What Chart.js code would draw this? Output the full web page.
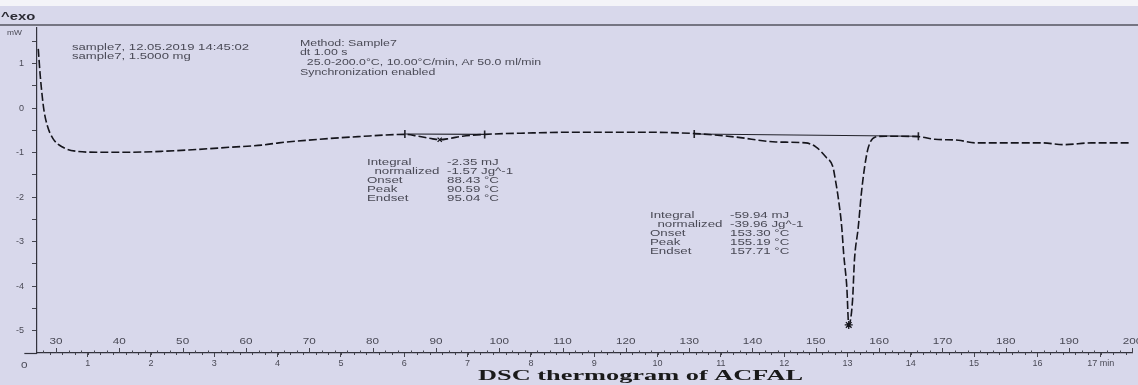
<!DOCTYPE html>
<html><head><meta charset="utf-8">
<script src="https://cdn.jsdelivr.net/npm/chart.js@4.4.1/dist/chart.umd.min.js"></script>
<style>html,body{margin:0;padding:0;background:#d8d8eb;}#wrap{width:1138px;height:385px;position:relative;}</style>
</head><body><div id="wrap"><canvas id="c"></canvas></div>
<script>
// ---- data ----
const temperatureC = [27.2,27.5,27.8,28.1,28.6,29.5,31.1,33.3,36.4,41.6,46.8,52.1,57.3,62.5,65.2,71.5,77.7,85.1,87.2,89.5,90.6,92.2,94.2,97.7,104.4,112.3,121.7,130.8,137.4,143.7,148.4,150.0,151.6,152.7,153.1,153.6,154.1,154.4,154.9,155.2,155.8,156.1,156.7,157.2,157.7,158.3,159.4,161.0,166.2,168.8,172.5,175.1,180.3,185.6,189.3,193.5,199.8];
const heatFlowMW = [1.33,0.75,0.30,-0.05,-0.38,-0.68,-0.88,-0.97,-0.99,-0.99,-0.97,-0.93,-0.88,-0.83,-0.78,-0.70,-0.64,-0.59,-0.63,-0.69,-0.71,-0.68,-0.63,-0.59,-0.56,-0.54,-0.54,-0.57,-0.65,-0.76,-0.78,-0.87,-1.10,-1.32,-1.62,-2.07,-2.68,-3.27,-4.03,-4.87,-4.32,-3.42,-2.68,-1.91,-1.33,-0.88,-0.65,-0.63,-0.64,-0.70,-0.72,-0.78,-0.78,-0.78,-0.82,-0.78,-0.78];
const baseline1T = [85.1, 97.7];
const baseline1MW = [-0.58, -0.59];
const baseline2T = [130.8, 166.2];
const baseline2MW = [-0.58, -0.63];
const peakT = [90.6, 155.2];
const peakMW = [-0.71, -4.87];
const tempTickLabels = [30,40,50,60,70,80,90,100,110,120,130,140,150,160,170,180,190,200];
const minuteTickLabels = [0,1,2,3,4,5,6,7,8,9,10,11,12,13,14,15,16,17];
const mwTickLabels = [1,0,-1,-2,-3,-4,-5];
const sampleLines = ['sample7, 12.05.2019 14:45:02','sample7, 1.5000 mg'];
const methodLines = ['Method: Sample7','dt 1.00 s','  25.0-200.0°C, 10.00°C/min, Ar 50.0 ml/min','Synchronization enabled'];
const resultKeys = ['Integral','  normalized','Onset','Peak','Endset'];
const peak1Values = ['-2.35 mJ','-1.57 Jg^-1','88.43 °C','90.59 °C','95.04 °C'];
const peak2Values = ['-59.94 mJ','-39.96 Jg^-1','153.30 °C','155.19 °C','157.71 °C'];
const chartTitle = 'DSC thermogram of ACFAL';

const BG = '#d8d8eb';
const INK = '#4a4a56';

function zip(xs, ys){ return xs.map((x,i)=>({x:x, y:ys[i]})); }

function txt(ctx, s, x, y, font, sx, align){
  ctx.save();
  ctx.font = font;
  ctx.textBaseline = 'middle';
  ctx.textAlign = align || 'left';
  ctx.translate(x, y);
  ctx.scale(sx, 1);
  ctx.fillText(s, 0, 0);
  ctx.restore();
}

const decor = {
  id: 'decor',
  beforeDraw(chart){
    const ctx = chart.ctx;
    ctx.save();
    ctx.fillStyle = BG;
    ctx.fillRect(0, 0, chart.width, chart.height);
    ctx.fillStyle = '#f4f4f8';
    ctx.fillRect(0, 0, chart.width, 6);
    ctx.restore();
  },
  afterDraw(chart){
    const ctx = chart.ctx;
    const xs = chart.scales.x, xm = chart.scales.xm;
    const axisY = chart.chartArea.bottom;
    ctx.save();
    ctx.strokeStyle = '#55555f';
    ctx.lineWidth = 1.5;
    ctx.beginPath(); ctx.moveTo(0, 25); ctx.lineTo(chart.width, 25); ctx.stroke();
    ctx.fillStyle = '#2a2a33';
    txt(ctx, '^exo', 1, 17, 'bold 11px "Liberation Sans"', 1.35);
    ctx.fillStyle = INK;
    txt(ctx, 'mW', 7, 33, '7px "Liberation Sans"', 1.2);
    const f = '9.5px "Liberation Sans"';
    sampleLines.forEach((s,i)=>txt(ctx, s, 72, 47 + i*9.5, f, 1.38));
    methodLines.forEach((s,i)=>txt(ctx, s, 300, 43 + i*9.7, f, 1.3));
    resultKeys.forEach((k,i)=>{
      txt(ctx, k, 367, 162 + i*9, f, 1.4);
      txt(ctx, peak1Values[i], 447, 162 + i*9, f, 1.4);
      txt(ctx, k, 650, 215 + i*9.2, f, 1.4);
      txt(ctx, peak2Values[i], 730, 215 + i*9.2, f, 1.4);
    });
    ctx.strokeStyle = '#45454f';
    ctx.lineWidth = 1;
    for (let t = 28; t <= 200; t += 2){
      const px = Math.round(xs.getPixelForValue(t)) + 0.5;
      const len = (t % 10 === 0) ? 5 : 2.5;
      ctx.beginPath(); ctx.moveTo(px, axisY); ctx.lineTo(px, axisY - len); ctx.stroke();
    }
    for (let m = 0.4; m <= 17.4; m += 0.2){
      const px = Math.round(xm.getPixelForValue(m)) + 0.5;
      ctx.beginPath(); ctx.moveTo(px, axisY); ctx.lineTo(px, axisY + 2); ctx.stroke();
    }
    ctx.fillStyle = INK;
    tempTickLabels.forEach(t=>{
      txt(ctx, String(t), xs.getPixelForValue(t), 342, '9px "Liberation Sans"', 1.3, 'center');
    });
    const x0 = xm.getPixelForValue(minuteTickLabels[0]);
    ctx.strokeStyle = '#33333d';
    ctx.lineWidth = 1.2;
    ctx.beginPath(); ctx.moveTo(x0, axisY + 0.5); ctx.lineTo(chart.chartArea.left, axisY + 0.5); ctx.stroke();
    txt(ctx, String(minuteTickLabels[0]), x0, 366, '9px "Liberation Sans"', 1.3, 'center');
    ctx.fillStyle = '#1a1a1a';
    ctx.font = 'bold 15px "Liberation Serif"';
    const w = ctx.measureText(chartTitle).width;
    txt(ctx, chartTitle, 640.5, 376, 'bold 15px "Liberation Serif"', 325 / w, 'center');
    ctx.restore();
  }
};

new Chart(document.getElementById('c'), {
  type: 'line',
  data: {
    datasets: [
      { label: 'DSC', data: zip(temperatureC, heatFlowMW), borderColor: '#15151c', borderWidth: 1.6,
        borderDash: [8, 3], pointRadius: 0, cubicInterpolationMode: 'monotone', fill: false },
      { label: 'baseline 1', data: zip(baseline1T, baseline1MW), borderColor: '#22222a', borderWidth: 1.1,
        pointStyle: 'line', rotation: 90, pointRadius: 4, pointBorderWidth: 1.6, pointBorderColor: '#22222a' },
      { label: 'baseline 2', data: zip(baseline2T, baseline2MW), borderColor: '#22222a', borderWidth: 1.1,
        pointStyle: 'line', rotation: 90, pointRadius: 4, pointBorderWidth: 1.6, pointBorderColor: '#22222a' },
      { label: 'peaks', data: zip(peakT, peakMW), showLine: false, pointStyle: ['crossRot', 'star'],
        pointRadius: [3, 4], pointBorderWidth: 1.3, pointBorderColor: '#15151c', pointBackgroundColor: '#15151c' }
    ]
  },
  options: {
    responsive: true, maintainAspectRatio: false, animation: false,
    layout: { padding: { top: 28, bottom: 15, left: 0, right: 0 } },
    plugins: { legend: { display: false }, tooltip: { enabled: false }, title: { display: false } },
    scales: {
      x: { type: 'linear', min: 27, max: 200, display: false },
      xm: { type: 'linear', position: 'bottom', min: 0.2, max: 17.5,
        afterFit: s => { s.height = 17; },
        border: { display: true, color: '#33333d', width: 1.2 },
        grid: { drawOnChartArea: false, drawTicks: true, tickLength: 4, color: '#45454f' },
        ticks: { stepSize: 1, includeBounds: false, autoSkip: false, maxRotation: 0, padding: 1,
          color: INK, font: { size: 9, family: 'Liberation Sans' },
          callback: v => (minuteTickLabels.includes(v) ? (v === 17 ? '17 min' : String(v)) : '') } },
      y: { type: 'linear', position: 'left', min: -5.5, max: 1.8,
        afterFit: s => { s.width = 37; },
        border: { display: true, color: '#33333d', width: 1.2 },
        grid: { drawOnChartArea: false, drawTicks: true, tickLength: 5, color: '#45454f' },
        ticks: { stepSize: 0.5, includeBounds: false, autoSkip: false, padding: 8,
          color: INK, font: { size: 9, family: 'Liberation Sans' },
          callback: v => (mwTickLabels.includes(v) ? String(v) : '') } }
    }
  },
  plugins: [decor]
});
</script>
</body></html>
